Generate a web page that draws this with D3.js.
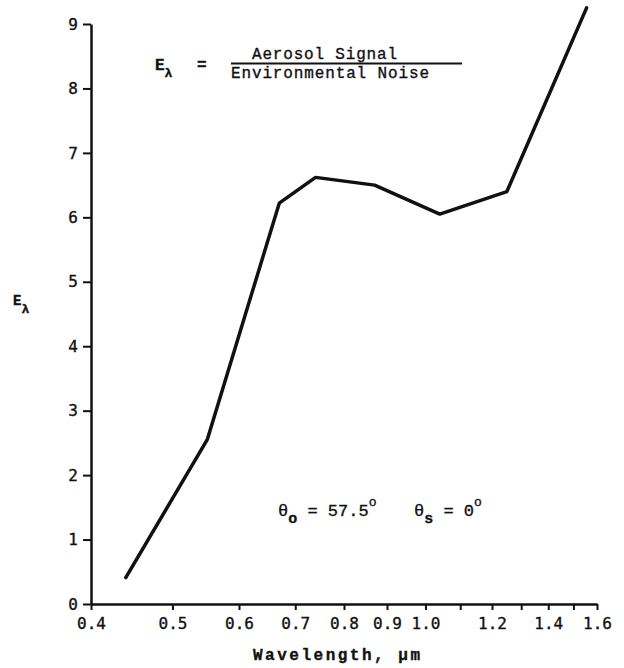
<!DOCTYPE html>
<html>
<head>
<meta charset="utf-8">
<script src="https://cdn.jsdelivr.net/npm/d3@7/dist/d3.min.js"></script>
<style>
  body { margin: 0; background: #fff; }
  svg text { font-family: "Liberation Mono", "DejaVu Sans Mono", monospace; fill: #111; stroke: #111; stroke-width: 0.35; }
</style>
</head>
<body>
<svg id="vis-svg" width="624" height="668"></svg>
<script>
var width  = 624;
var height = 668;

// data
const wavelength = [0.44, 0.55, 0.67, 0.74, 0.87, 1.04, 1.25, 1.555];
const eLambda    = [0.41, 2.55, 6.22, 6.62, 6.50, 6.05, 6.40, 9.25];

const xTicks  = [0.4, 0.5, 0.6, 0.7, 0.8, 0.9, 1.0, 1.1, 1.2, 1.3, 1.4, 1.5, 1.6];
const xLabels = ["0.4", "0.5", "0.6", "0.7", "0.8", "0.9", "1.0", "", "1.2", "", "1.4", "", "1.6"];
const yTicks  = [0, 1, 2, 3, 4, 5, 6, 7, 8, 9];

const svg = d3.select("#vis-svg");

// wavelength axis is logarithmic
const x = d3.scaleLog().domain([0.4, 1.6]).range([91, 597]);
const y = d3.scaleLinear().domain([0, 9]).range([604, 24]);

const xAxis = svg.append("g")
  .attr("transform", "translate(0," + y(0) + ")")
  .call(d3.axisBottom(x).tickValues(xTicks)
    .tickFormat((d, i) => xLabels[i])
    .tickSize(6).tickSizeOuter(0).tickPadding(8));

const yAxis = svg.append("g")
  .attr("transform", "translate(" + x(0.4) + ",0)")
  .call(d3.axisLeft(y).tickValues(yTicks)
    .tickFormat(d3.format("d"))
    .tickSize(8).tickSizeOuter(0).tickPadding(5));

[xAxis, yAxis].forEach(a => {
  a.select(".domain").attr("stroke", "#111").attr("stroke-width", 2.5);
  a.selectAll(".tick line").attr("stroke", "#111").attr("stroke-width", 2);
  a.selectAll(".tick text")
    .style("font-family", "'DejaVu Sans Mono', monospace")
    .attr("font-size", 16).attr("fill", "#111");
});

// the curve
const line = d3.line()
  .x((d, i) => x(wavelength[i]))
  .y(d => y(d));

svg.append("path")
  .datum(eLambda)
  .attr("fill", "none")
  .attr("stroke", "#111")
  .attr("stroke-width", 3.5)
  .attr("stroke-linejoin", "round")
  .attr("stroke-linecap", "round")
  .attr("d", line);

// axis titles
svg.append("text")
  .attr("x", 253).attr("y", 660)
  .attr("font-size", 16).attr("font-weight", "bold")
  .attr("textLength", 167)
  .text("Wavelength,  \u03bcm");

const yl = svg.append("text").attr("x", 13).attr("y", 305).attr("font-size", 14).attr("font-weight", "bold");
yl.append("tspan").text("E");
yl.append("tspan").attr("dy", 8).attr("font-size", 13).text("\u03bb");

// formula
const f = svg.append("text").attr("x", 155).attr("y", 70).attr("font-size", 16).attr("font-weight", "bold");
f.append("tspan").text("E");
f.append("tspan").attr("dy", 7).attr("font-size", 13).text("\u03bb");
svg.append("text").attr("x", 197).attr("y", 70).attr("font-size", 16).attr("font-weight", "bold").text("=");
svg.append("text").attr("x", 252).attr("y", 59)
  .attr("font-size", 16).attr("textLength", 145).text("Aerosol Signal");
svg.append("line").attr("x1", 231).attr("x2", 462).attr("y1", 63.5).attr("y2", 63.5)
  .attr("stroke", "#111").attr("stroke-width", 2);
svg.append("text").attr("x", 231).attr("y", 78)
  .attr("font-size", 16).attr("textLength", 198).text("Environmental Noise");

// angle notes
const t1 = svg.append("text").attr("x", 278).attr("y", 516).attr("font-size", 17);
t1.append("tspan").text("\u03b8");
t1.append("tspan").attr("dy", 7).attr("font-size", 15).attr("font-weight", "bold").text("o");
t1.append("tspan").attr("dy", -7).text(" = 57.5");
t1.append("tspan").attr("dy", -10).attr("font-size", 13).text("o");

const t2 = svg.append("text").attr("x", 414).attr("y", 516).attr("font-size", 17);
t2.append("tspan").text("\u03b8");
t2.append("tspan").attr("dy", 7).attr("font-size", 15).attr("font-weight", "bold").text("s");
t2.append("tspan").attr("dy", -7).text(" = 0");
t2.append("tspan").attr("dy", -10).attr("font-size", 13).text("o");
</script>
</body>
</html>
